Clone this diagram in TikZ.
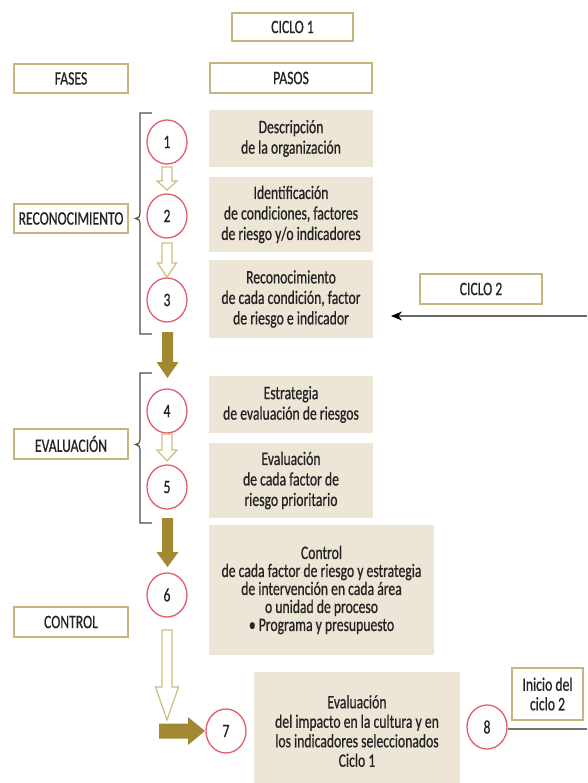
\documentclass[tikz,border=0pt]{standalone}
\usepackage{fontspec}
\setmainfont[FakeStretch=0.72,FakeBold=0.6]{Carlito}
\usetikzlibrary{shapes.geometric,arrows.meta}
\definecolor{beige}{RGB}{237,229,213}
\definecolor{frameline}{RGB}{196,182,128}
\definecolor{ringred}{RGB}{226,92,108}
\definecolor{goldarrow}{RGB}{163,136,52}
\definecolor{openarrow}{RGB}{205,190,128}
\definecolor{txt}{RGB}{35,35,35}
% #1 cx, #2 y start, #3 y tip, #4 shaft half width, #5 head half width, #6 head start, #7 style
\newcommand{\myDownArrow}[7]{%
  \path[#7] ({#1-#4},#2) -- ({#1+#4},#2) -- ({#1+#4},#6) -- ({#1+#5},#6) -- (#1,#3)
    -- ({#1-#5},#6) -- ({#1-#4},#6) -- cycle;}
% #1 cy, #2 x start, #3 x tip, #4 shaft half, #5 head half, #6 head start, #7 style
\newcommand{\myRightArrow}[7]{%
  \path[#7] (#2,{#1-#4}) -- (#6,{#1-#4}) -- (#6,{#1-#5}) -- (#3,#1) -- (#6,{#1+#5})
    -- (#6,{#1+#4}) -- (#2,{#1+#4}) -- cycle;}
\begin{document}
\begin{tikzpicture}[x=1pt,y=-1pt,
  every node/.style={font=\fontsize{19}{20.5}\selectfont, text=txt},
  frame/.style={draw=frameline, line width=1.3pt, fill=white, inner sep=0pt, align=center},
  stepbox/.style={fill=beige, inner sep=0pt, align=center},
  ring/.style={ellipse, draw=ringred, line width=1.3pt, fill=white, minimum width=40pt, minimum height=44pt, inner sep=0pt},
  brack/.style={draw=black!70, line width=1.2pt},
  goldfill/.style={fill=goldarrow},
  openfill/.style={draw=openarrow, line width=1.2pt, fill=white, line join=miter}]
\useasboundingbox (0,0) rectangle (587,783);
\fill[white] (0,0) rectangle (587,783);

% header
\node[frame, minimum width=121pt, minimum height=28pt] (ciclo1) at (292.5,27) {CICLO 1};
\node[frame, minimum width=114pt, minimum height=29pt] (fases) at (71,78.5) {FASES};
\node[frame, minimum width=162pt, minimum height=30pt] (pasos) at (291,78) {PASOS};

% phases
\node[frame, minimum width=114pt, minimum height=29pt] (reco) at (71,218.5) {RECONOCIMIENTO};
\node[frame, minimum width=114pt, minimum height=30pt] (eval) at (71,444) {EVALUACIÓN};
\node[frame, minimum width=114pt, minimum height=30pt] (ctrl) at (71,622) {CONTROL};

% step boxes
\node[stepbox, minimum width=164pt, minimum height=57pt] (s1) at (291,138.5) {Descripción\\de la organización};
\node[stepbox, minimum width=164pt, minimum height=75pt] (s2) at (291,214.5) {Identificación\\de condiciones, factores\\de riesgo y/o indicadores};
\node[stepbox, minimum width=164pt, minimum height=78pt] (s3) at (291,299) {Reconocimiento\\de cada condición, factor\\de riesgo e indicador};
\node[stepbox, minimum width=164pt, minimum height=57pt] (s4) at (291,404.5) {Estrategia\\de evaluación de riesgos};
\node[stepbox, minimum width=164pt, minimum height=75pt] (s5) at (291,480.5) {Evaluación\\de cada factor de\\riesgo prioritario};
\node[stepbox, minimum width=225pt, minimum height=130pt, font=\fontsize{19}{18}\selectfont] (s6) at (321.5,590) {Control\\de cada factor de riesgo y estrategia\\de intervención en cada área\\o unidad de proceso\\• Programa y presupuesto};
\node[stepbox, minimum width=206pt, minimum height=118pt, font=\fontsize{19}{19.5}\selectfont] (s7) at (357,731) {Evaluación\\del impacto en la cultura y en\\los indicadores seleccionados\\Ciclo 1};

% circles
\node[ring] (c1) at (167,142) {1};
\node[ring] (c2) at (167,216) {2};
\node[ring] (c3) at (167,300) {3};
\node[ring] (c4) at (167,411) {4};
\node[ring] (c5) at (167,487) {5};
\node[ring] (c6) at (167,595) {6};
\node[ring] (c7) at (226,731) {7};
\node[ring] (c8) at (487,727) {8};

% right side boxes
\node[frame, minimum width=122pt, minimum height=30pt] (ciclo2) at (481,289) {CICLO 2};
\node[frame, minimum width=71pt, minimum height=52pt, font=\fontsize{19}{19.5}\selectfont] (inicio) at (547.5,694) {Inicio del\\ciclo 2};

% brackets
\draw[brack] (152,113) -- (140,113) -- (140,213)
  .. controls (140,217) and (138,218.5) .. (135.5,218.5)
  .. controls (138,218.5) and (140,220) .. (140,224) -- (140,334) -- (152,334);
\draw[brack] (152,373) -- (140,373) -- (140,439)
  .. controls (140,443) and (138,444.5) .. (135.5,444.5)
  .. controls (138,444.5) and (140,446) .. (140,450) -- (140,523) -- (152,523);

% small open arrows
\myDownArrow{167}{167}{190}{5}{10}{181}{openfill}
\myDownArrow{167}{243}{277}{5}{9.5}{263}{openfill}
\myDownArrow{167}{434}{461}{5}{10}{450}{openfill}
% large open arrow
\myDownArrow{167}{630}{720}{5}{11.5}{687}{openfill}

% gold arrows
\myDownArrow{167.5}{332}{378}{5.5}{11}{362}{goldfill}
\myDownArrow{167.5}{518}{567}{5.5}{11}{552}{goldfill}
\myRightArrow{731}{159}{205}{7.5}{14}{188}{goldfill}

% cycle 2 return arrow
\coordinate (c2from) at (587,316);
\coordinate (c2to) at (391,316);
\draw[line width=1.5pt, draw=black!60, -{Stealth[length=11pt,width=9pt,color=black]}] (c2from) -- (c2to);

% line from 8
\coordinate (c8end) at (587,729);
\draw[line width=2pt, draw=black!55] (c8.east |- c8end) -- (c8end);
\end{tikzpicture}
\end{document}
